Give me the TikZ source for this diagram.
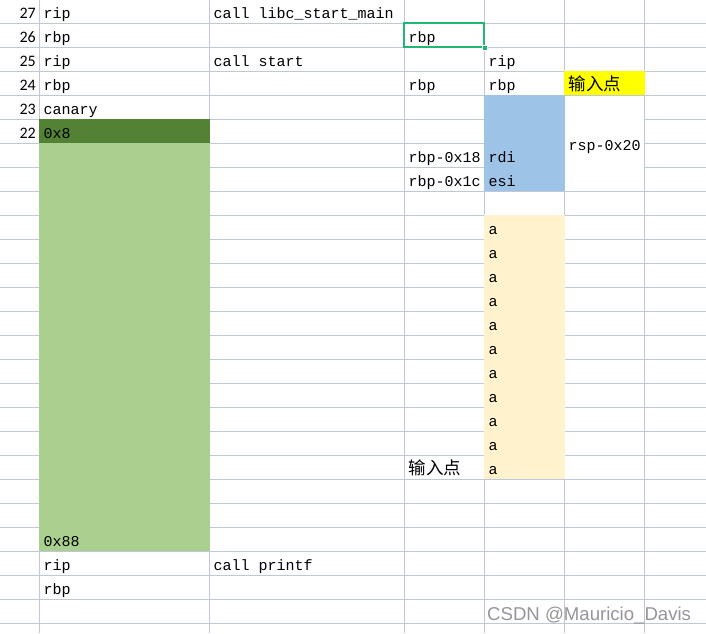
\documentclass[tikz,border=0pt]{standalone}
\usepackage{fontspec}
\setmainfont{Liberation Mono}
\newfontfamily\cjk{Noto Sans CJK SC}
\newfontfamily\numfont{Carlito}
\newfontfamily\wmfont{Liberation Sans}
\definecolor{gridc}{RGB}{192,199,216}
\definecolor{dkgreen}{RGB}{84,130,53}
\definecolor{ltgreen}{RGB}{169,208,142}
\definecolor{bluefill}{RGB}{157,195,230}
\definecolor{cream}{RGB}{255,242,204}
\definecolor{yellowfill}{RGB}{255,255,0}
\definecolor{selgreen}{RGB}{33,183,115}
\definecolor{wmgray}{RGB}{150,150,150}
\newcommand\tcell[4]{\node[ctext] (#1) at (#2,{18.3+24*#3}) {#4};}
\begin{document}
\begin{tikzpicture}[x=1pt,y=-1pt,
  grid/.style={draw=gridc,line width=1pt},
  ctext/.style={anchor=base west,inner sep=0pt,font=\fontsize{15}{18}\selectfont,text=black},
  cjktext/.style={anchor=base west,inner sep=0pt,font=\cjk\fontsize{17.5}{20}\selectfont,text=black},
  rownum/.style={anchor=base east,inner sep=0pt,font=\numfont\fontsize{16}{18}\selectfont,text=black},
]
\useasboundingbox (0,0) rectangle (706,633);
\fill[white] (0,0) rectangle (706,633);
% grid
\foreach \k in {0,...,25} \draw[grid] (0,{23.3+24*\k}) -- (706,{23.3+24*\k});
\foreach \x in {39.3,209.3,404.3,484.3,564.3,644.3} \draw[grid] (\x,0) -- (\x,633);
% fills
\fill[dkgreen] (38.8,119.3) rectangle (209.8,143.3);
\fill[ltgreen] (38.8,143.3) rectangle (209.8,551.3);
\fill[bluefill] (483.8,95.3) rectangle (564.8,191.3);
\fill[white] (564.8,95.8) rectangle (643.8,190.8);
\fill[cream] (483.8,215.3) rectangle (564.8,479.3);
\fill[yellowfill] (563.8,71.3) rectangle (644.8,95.3);
% row numbers
\foreach \r/\n in {0/27,1/26,2/25,3/24,4/23,5/22}
  \node[rownum] (rn\n) at (36,{18.3+24*\r}) {\n};
% column B
\tcell{b0}{43.3}{0}{rip}
\tcell{b1}{43.3}{1}{rbp}
\tcell{b2}{43.3}{2}{rip}
\tcell{b3}{43.3}{3}{rbp}
\tcell{b4}{43.3}{4}{canary}
\tcell{b5}{43.3}{5}{0x8}
\tcell{b22}{43.3}{22}{0x88}
\tcell{b23}{43.3}{23}{rip}
\tcell{b24}{43.3}{24}{rbp}
% column C
\tcell{c0}{213.3}{0}{call libc\_start\_main}
\tcell{c2}{213.3}{2}{call start}
\tcell{c23}{213.3}{23}{call printf}
% column D
\tcell{d1}{408.3}{1}{rbp}
\tcell{d3}{408.3}{3}{rbp}
\tcell{d6}{408.3}{6}{rbp-0x18}
\tcell{d7}{408.3}{7}{rbp-0x1c}
\node[cjktext] (d19) at (408.3,{18.3+24*19}) {输入点};
% column E
\tcell{e2}{488.3}{2}{rip}
\tcell{e3}{488.3}{3}{rbp}
\tcell{e6}{488.3}{6}{rdi}
\tcell{e7}{488.3}{7}{esi}
\foreach \r in {9,...,19} \node[ctext] (ea\r) at (488.3,{18.3+24*\r}) {a};
% column F
\node[cjktext] (f3) at (568.3,{18.3+24*3}) {输入点};
\node[ctext] (f47) at (568.3,150.5) {rsp-0x20};
% selection
\draw[selgreen,line width=2.2pt] (404.3,23.3) rectangle (484.3,47.3);
\draw[white,fill=selgreen,line width=0.8pt] (482.3,45.3) rectangle (487.3,50.3);
% watermark
\node[anchor=base west,inner sep=0pt,font=\wmfont\fontsize{18.6}{20}\selectfont,text=wmgray] (wm) at (487,620) {CSDN @Mauricio\_Davis};
\end{tikzpicture}
\end{document}
